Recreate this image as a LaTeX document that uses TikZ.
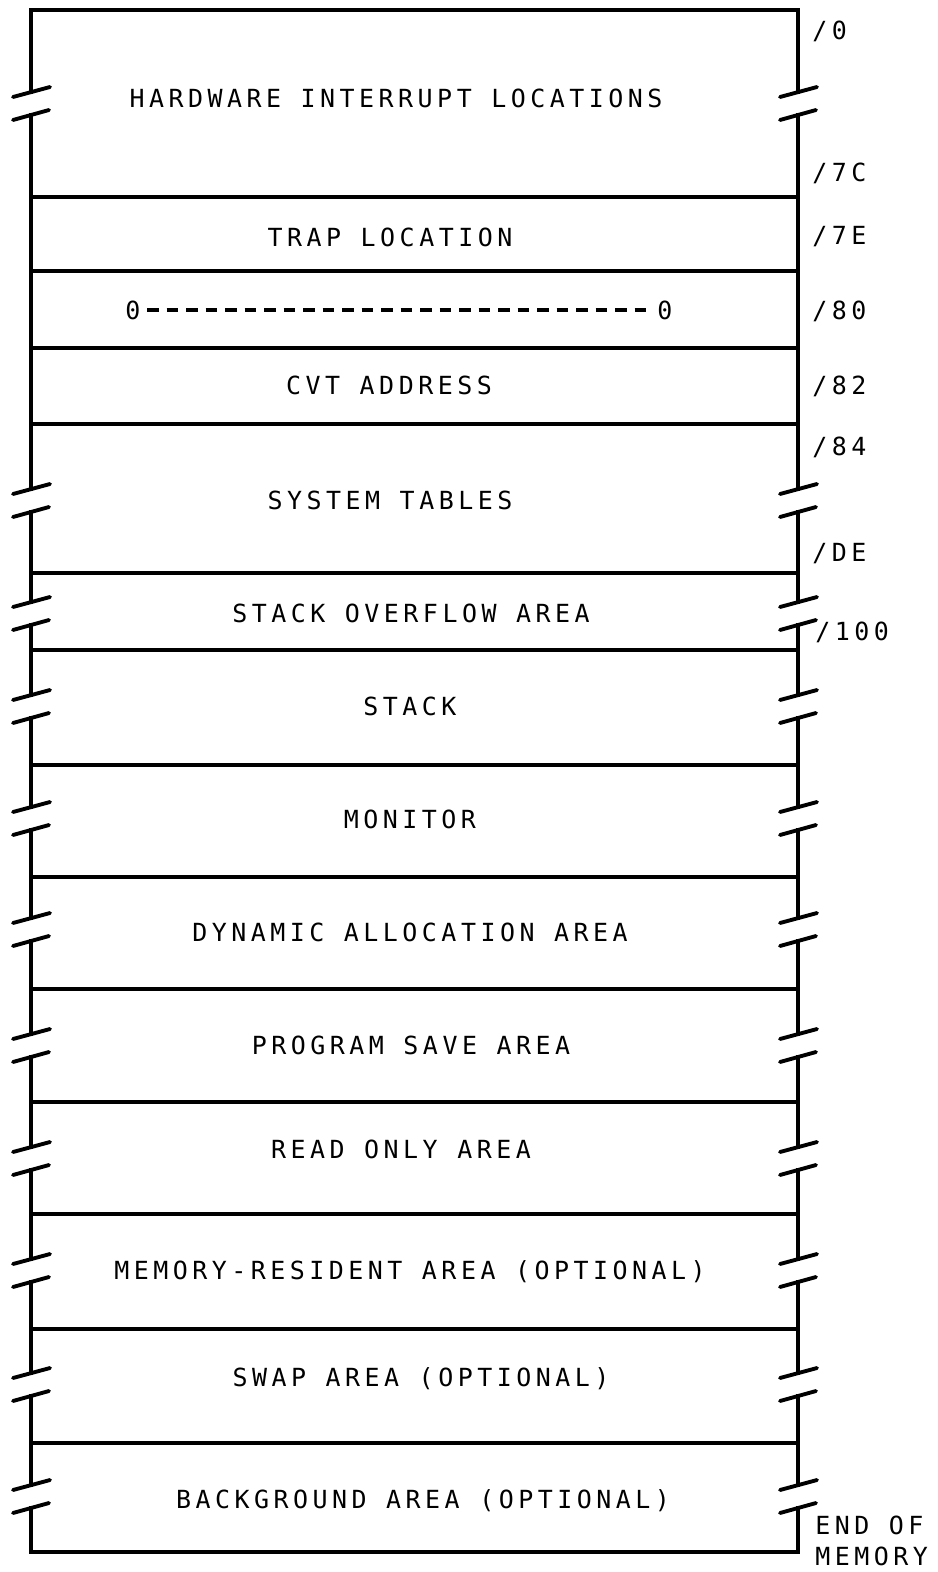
\documentclass[tikz,border=0pt]{standalone}
\usepackage{fontspec}
\newfontfamily\lettering[LetterSpace=18]{DejaVu Sans Mono}
\usetikzlibrary{positioning}

\begin{document}
\begin{tikzpicture}[x=0.02cm,y=-0.02cm,
  font=\lettering\fontsize{14.2}{17}\selectfont,
  wall/.style={line width=2.7pt,line cap=rect},
  brkline/.style={line width=2.2pt,line cap=round},
  dashline/.style={line width=2pt,dash pattern=on 6.6pt off 4.5pt,
    shorten <=3.5pt,shorten >=2pt},
  area/.style={inner sep=0pt,anchor=center,text height=10.4pt,text depth=0pt},
  addr/.style={inner sep=0pt,anchor=west,text height=10.4pt,text depth=0pt}]

\useasboundingbox (0,0) rectangle (937,1572);

% top, bottom and the dividers between areas
\foreach \y in {10,197,271,348,424,573,650,765,877,989,1102,1214,1329,1443,1552}
  \draw[wall] (31,\y) -- (798,\y);

% both sides, cut at every break
\foreach \a/\b in {10/92,115/489,512/602,625/695,718/807,830/918,941/1034,
                   1057/1147,1170/1259,1282/1373,1396/1485,1508/1552}
  \draw[wall] (31,\a) -- (31,\b) (798,\a) -- (798,\b);

% break marks
\foreach \y in {104,501,614,707,819,930,1046,1159,1271,1385,1497}
  \foreach \x in {31,798}{
    \draw[brkline] (\x-18,\y-7) -- (\x+19,\y-17);
    \draw[brkline] (\x-18,\y+16) -- (\x+18,\y+6);
  }

% areas
\node[area] (hw)    at (396,98)   {HARDWARE INTERRUPT LOCATIONS};
\node[area] (trap)  at (390,237)  {TRAP LOCATION};
\node[area] (zl)    at (133,310)  {0};
\node[area] (zr)    at (665,310)  {0};
\node[area] (cvt)   at (389,385)  {CVT ADDRESS};
\node[area] (systb) at (390,500)  {SYSTEM TABLES};
\node[area] (ovfl)  at (411,613)  {STACK OVERFLOW AREA};
\node[area] (stack) at (410,706)  {STACK};
\node[area] (mon)   at (410,819)  {MONITOR};
\node[area] (dyn)   at (410,932)  {DYNAMIC ALLOCATION AREA};
\node[area] (psave) at (411,1045) {PROGRAM SAVE AREA};
\node[area] (ronly) at (401,1149) {READ ONLY AREA};
\node[area] (mres)  at (410,1270) {MEMORY-RESIDENT AREA (OPTIONAL)};
\node[area] (swap)  at (421,1377) {SWAP AREA (OPTIONAL)};
\node[area] (bkg)   at (423,1499) {BACKGROUND AREA (OPTIONAL)};

\draw[dashline] (zl.east) -- (zr.west);

% addresses
\node[addr] (a0)   at (812,30)   {/0};
\node[addr] (a7c)  at (812,172)  {/7C};
\node[addr] (a7e)  at (812,235)  {/7E};
\node[addr] (a80)  at (812,310)  {/80};
\node[addr] (a82)  at (812,385)  {/82};
\node[addr] (a84)  at (812,446)  {/84};
\node[addr] (ade)  at (812,552)  {/DE};
\node[addr] (a100) at (815,631)  {/100};
\node[addr] (eof)  at (815,1525) {END OF};
\node[addr] (mem)  at (815,1556) {MEMORY};
\end{tikzpicture}
\end{document}
